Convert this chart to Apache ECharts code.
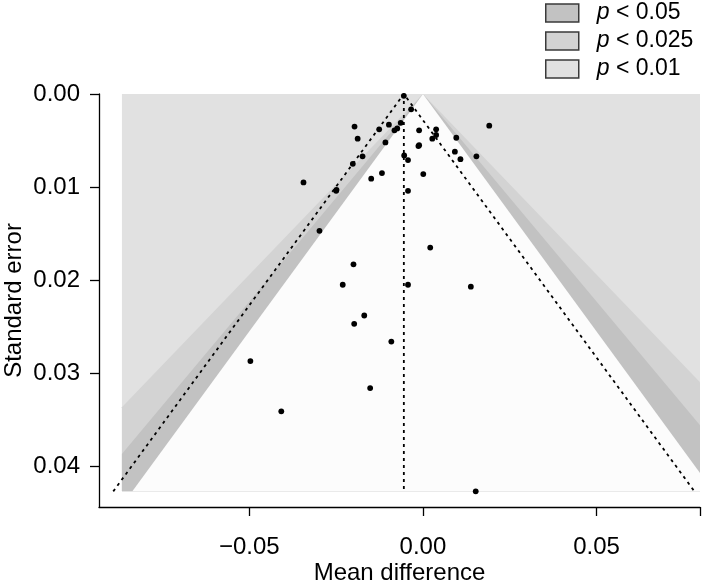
<!DOCTYPE html>
<html>
<head>
<meta charset="utf-8">
<script src="https://cdn.jsdelivr.net/npm/echarts@6/dist/echarts.min.js"></script>
<style>html,body{margin:0;padding:0;background:#fff}#c{width:703px;height:585px}</style>
</head>
<body>
<div id="c"></div>
<script>
// Study effects (mean difference) and standard errors
const meanDiff = [-0.0055,-0.0034,-0.0197,-0.0188,-0.0126,-0.0098,-0.0082,-0.0074,-0.0064,-0.0108,
  -0.0174,-0.0202,-0.0344,-0.0118,-0.0149,-0.0249,-0.0250,-0.0054,-0.0043,-0.0043,-0.0011,0.0038,0.0038,
  0.0027,-0.0011,-0.0013,0.0096,0.0191,0.0092,0.0108,0.0154,0.0001,-0.0298,0.0021,-0.0200,-0.0231,
  -0.0043,-0.0169,-0.0198,-0.0091,-0.0497,-0.0152,-0.0408,0.0138,0.0152];
const stdErr = [0.0002,0.00165,0.0035,0.0048,0.0038,0.0033,0.0039,0.0037,0.0031,0.0052,
  0.0067,0.0075,0.0095,0.0085,0.0091,0.0103,0.0104,0.0066,0.0071,0.0104,0.0039,0.0038,0.0044,
  0.0048,0.0055,0.0056,0.0047,0.0034,0.0062,0.0070,0.0067,0.0086,0.0147,0.0165,0.0183,0.0205,
  0.0205,0.0238,0.0247,0.0266,0.0287,0.0316,0.0341,0.0207,0.0427];
// Pooled estimate and funnel settings
const pooled = -0.0055;
const zFunnel = 1.96;
// Contour levels (two-sided z) and labels
const contourZ = [1.96, 2.2414, 2.5758];
const contourNames = ['p < 0.05', 'p < 0.025', 'p < 0.01'];
const contourColors = ['#c2c2c2', '#d3d3d3', '#e1e1e1'];
// Ticks
const xTicks = [-0.05, 0, 0.05];
const yTicks = [0, 0.01, 0.02, 0.03, 0.04];
// Extents
const xMin = -0.0933, xMax = 0.0798;
const yMax = 0.04438;
const shadeLeft = -0.0867;
const seMax = Math.max(...stdErr);

function tri(z) {
  const pts = [[0, 0]];
  if (z * seMax <= xMax) pts.push([z * seMax, seMax]);
  else { pts.push([xMax, xMax / z]); pts.push([xMax, seMax]); }
  if (-z * seMax >= shadeLeft) pts.push([-z * seMax, seMax]);
  else { pts.push([shadeLeft, seMax]); pts.push([shadeLeft, -shadeLeft / z]); }
  return pts;
}
function polySeries(name, pts, color, z) {
  return {
    type: 'custom', name: name, z: z, silent: true, clip: true,
    itemStyle: { color: color },
    data: pts,
    encode: { x: 0, y: 1 },
    renderItem: function (params, api) {
      if (params.dataIndex !== 0) return null;
      return { type: 'polygon', shape: { points: pts.map(p => api.coord(p)) }, style: { fill: color } };
    }
  };
}
const rectPts = [[shadeLeft, 0], [xMax, 0], [xMax, seMax], [shadeLeft, seMax]];

const series = [
  polySeries('p < 0.01', rectPts, contourColors[2], 1),
  polySeries('p < 0.025', tri(contourZ[2]), contourColors[1], 2),
  polySeries('p < 0.05', tri(contourZ[1]), contourColors[0], 3),
  polySeries('inner', tri(contourZ[0]), '#fcfcfc', 4),
  {
    type: 'line', z: 5, symbol: 'none', silent: true,
    data: [[pooled - zFunnel * seMax, seMax], [pooled, 0], [pooled + zFunnel * seMax, seMax]],
    lineStyle: { color: '#000', width: 1.8, type: [3, 4] }
  },
  {
    type: 'line', z: 5, symbol: 'none', silent: true,
    data: [[pooled, 0], [pooled, seMax]],
    lineStyle: { color: '#000', width: 1.8, type: [3, 4] }
  },
  {
    type: 'scatter', z: 6, symbol: 'circle', symbolSize: 5.8, silent: true,
    itemStyle: { color: '#000', opacity: 1 },
    data: meanDiff.map((v, i) => [v, stdErr[i]])
  }
];

const FONT = "'Liberation Sans', Arial, Helvetica, sans-serif";
const FS = 24;
const fmt = v => (v < 0 ? '\u2212' + (-v).toFixed(2) : v.toFixed(2));
const chart = echarts.init(document.getElementById('c'), null, { renderer: 'canvas' });
chart.setOption({
  animation: false,
  backgroundColor: '#fff',
  textStyle: { fontFamily: FONT },
  grid: { left: 99, right: 3, top: 94, bottom: 78, containLabel: false, outerBoundsMode: 'none' },
  legend: {
    data: contourNames,
    orient: 'vertical', left: 540, top: -6,
    itemWidth: 33, itemHeight: 18, itemGap: 0,
    icon: 'rect',
    itemStyle: { borderColor: '#3a3a3a', borderWidth: 1.5 },
    selectedMode: false,
    formatter: n => '{i|p}' + n.slice(1),
    textStyle: {
      fontFamily: FONT, fontSize: 23, color: '#000', padding: [0, 0, 0, 13], lineHeight: 28,
      rich: { i: { fontStyle: 'italic', fontSize: 23, fontFamily: FONT, color: '#000', lineHeight: 28 } }
    }
  },
  xAxis: {
    type: 'value', min: xMin, max: xMax,
    name: 'Mean difference', nameLocation: 'middle', nameGap: 54, nameMoveOverlap: false,
    nameTextStyle: { fontSize: FS, color: '#000', fontFamily: FONT },
    axisLine: { onZero: false, lineStyle: { color: '#000', width: 1.3 } },
    axisTick: { length: 9, customValues: xTicks.concat([xMax]), lineStyle: { color: '#000', width: 1.3 } },
    axisLabel: { customValues: xTicks, formatter: fmt, fontSize: FS, color: '#000', margin: 28, fontFamily: FONT },
    splitLine: { show: false }
  },
  yAxis: {
    type: 'value', inverse: true, min: 0, max: yMax,
    name: 'Standard error', nameLocation: 'middle', nameGap: 73, nameRotate: 90, nameMoveOverlap: false,
    nameTextStyle: { fontSize: FS, color: '#000', fontFamily: FONT },
    axisLine: { onZero: false, lineStyle: { color: '#000', width: 1.3 } },
    axisTick: { length: 9, customValues: yTicks, lineStyle: { color: '#000', width: 1.3 } },
    axisLabel: { customValues: yTicks, formatter: v => v.toFixed(2), fontSize: FS, color: '#000', margin: 19, fontFamily: FONT },
    splitLine: { show: false }
  },
  series: series
});
</script>
</body>
</html>
